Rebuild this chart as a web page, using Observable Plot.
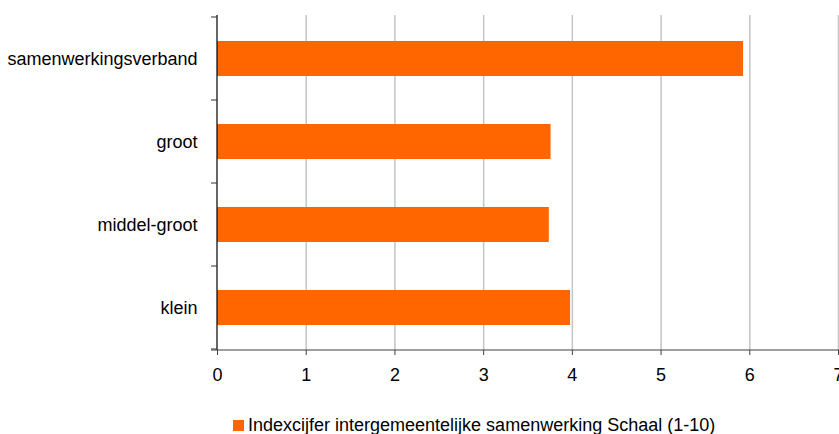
<!DOCTYPE html>
<html>
<head>
<meta charset="utf-8">
<script src="https://cdn.jsdelivr.net/npm/d3@7"></script>
<script src="https://cdn.jsdelivr.net/npm/@observablehq/plot@0.6"></script>
<style>
  html, body { margin: 0; padding: 0; background: #fff; }
  #wrap { position: relative; width: 839px; height: 434px; font-family: "Liberation Sans", Arial, sans-serif; }
  #legend { position: absolute; left: 233px; top: 416px; height: 18px; display: flex; align-items: center; font-size: 18px; color: #000; white-space: nowrap; }
  #legend .sw { width: 11px; height: 11px; background: #ff6600; margin-right: 4px; }
</style>
</head>
<body>
<div id="wrap"><div id="chart"></div><div id="legend"><span class="sw"></span><span id="legendText"></span></div></div>
<script>
const categories = ["samenwerkingsverband", "groot", "middel-groot", "klein"];
const values = [5.93, 3.76, 3.74, 3.98];
const xTicks = [0, 1, 2, 3, 4, 5, 6, 7];
const seriesName = "Indexcijfer intergemeentelijke samenwerking Schaal (1-10)";

const data = categories.map((c, i) => ({category: c, value: values[i]}));

// custom decoration: axis lines and band-boundary ticks on y axis
function axisLines(index, scales, values, dimensions) {
  const {marginTop, height, width, marginBottom, marginRight} = dimensions;
  const bottom = height - marginBottom;
  const x0 = scales.x(0);
  const g = d3.create("svg:g");
  const y = scales.y;
  const step = categories.length > 1 ? y(categories[1]) - y(categories[0]) : (bottom - marginTop);
  const bounds = categories.map(c => y(c)).concat([y(categories[categories.length - 1]) + step]);
  g.append("line").attr("x1", x0).attr("x2", x0).attr("y1", marginTop).attr("y2", bottom)
    .attr("stroke", "#000").attr("stroke-width", 1.2);
  for (const b of bounds) {
    g.append("line").attr("x1", x0 - 6).attr("x2", x0).attr("y1", b).attr("y2", b)
      .attr("stroke", "#333").attr("stroke-width", 1);
  }
  g.append("line").attr("x1", x0 - 6).attr("x2", width - marginRight + 1).attr("y1", bottom).attr("y2", bottom)
    .attr("stroke", "#404040").attr("stroke-width", 1.2);
  return g.node();
}

const chart = Plot.plot({
  width: 839,
  height: 400,
  marginLeft: 217,
  marginRight: 1,
  marginTop: 15,
  marginBottom: 50,
  style: {fontFamily: "'Liberation Sans', Arial, sans-serif", fontSize: "18px", color: "#000", background: "#fff"},
  x: {domain: [0, 7], label: null},
  y: {domain: categories, padding: 0, label: null},
  marks: [
    Plot.gridX(xTicks.filter(t => t !== 0), {stroke: "#c4c4c4", strokeOpacity: 1, strokeWidth: 1.5}),
    Plot.barX(data, {x: "value", y: "category", fill: "#ff6600", insetTop: 24, insetBottom: 24}),
    Plot.axisX(xTicks, {tickSize: 5, tickPadding: 13, stroke: "#404040", label: null, fontSize: 18, tickFormat: d => String(d)}),
    Plot.axisY({tickSize: 0, tickPadding: 20, label: null, fontSize: 18}),
    axisLines
  ]
});
document.getElementById("chart").appendChild(chart);
document.getElementById("legendText").textContent = seriesName;
</script>
</body>
</html>
